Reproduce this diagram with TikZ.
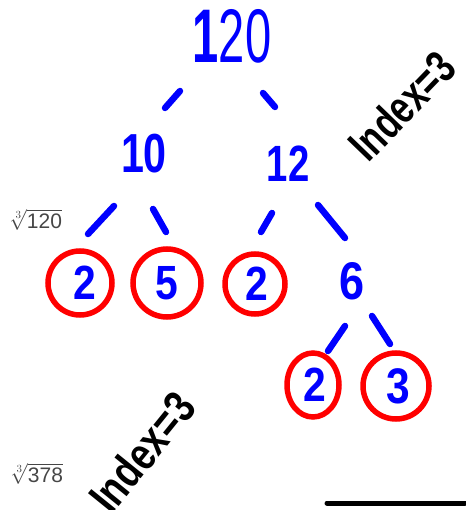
\documentclass[tikz,border=0pt]{standalone}
\usepackage{fontspec}
\usetikzlibrary{shapes.geometric}
\setmainfont{Liberation Sans}
\definecolor{penblue}{RGB}{0,0,255}
\definecolor{penred}{RGB}{255,0,0}
\definecolor{rootgray}{RGB}{70,70,70}
\newcommand{\hw}[3]{\scalebox{#1}[1]{\fontsize{#2}{#2}\selectfont\bfseries #3}}
\newcommand{\hr}[3]{\scalebox{#1}[1]{\fontsize{#2}{#2}\selectfont #3}}
\begin{document}
\begin{tikzpicture}[x=1pt,y=-1pt,
  num/.style={inner sep=0pt, text=penblue},
  dashseg/.style={draw=penblue, line width=6.5pt, line cap=round},
  ring/.style={draw=penred, line width=5.5pt, circle, minimum size=#1, inner sep=0pt},
  ink/.style={inner sep=0pt, text=black},
  rootlabel/.style={inner sep=0pt, text=rootgray, font=\fontsize{21}{21}\selectfont}]
\useasboundingbox (0,0) rectangle (465,510);
% numbers
\node[num] (n120) at (232,36) {\hr{0.62}{76}{\textbf{1}20}};
\node[num] (n10) at (144,154) {\hw{0.75}{55}{10}};
\node[num] (n12) at (288,164) {\hw{0.75}{51}{12}};
\node[num] (n6) at (352,281) {\hw{0.85}{53}{6}};
% circled factors
\node[ring=64pt] (c1) at (80,283) {};
\node[num] (f1) at (85,283) {\hw{0.85}{48}{2}};
\node[ring=68pt] (c2) at (167,283) {};
\node[num] (f2) at (167,283) {\hw{0.85}{48}{5}};
\node[ring=60pt] (c3) at (255,284) {};
\node[num] (f3) at (257,284) {\hw{0.85}{48}{2}};
\node[draw=penred, line width=5.5pt, ellipse, minimum width=52pt, minimum height=64pt, inner sep=0pt] (c4) at (313,385) {};
\node[num] (f4) at (315,385) {\hw{0.85}{48}{2}};
\node[ring=66pt] (c5) at (396,386) {};
\node[num] (f5) at (398,386) {\hw{0.85}{50}{3}};
% dashes
\coordinate (a1) at (180,91); \coordinate (a2) at (165,108);
\coordinate (b1) at (263,93); \coordinate (b2) at (275,107);
\coordinate (d1) at (114,206); \coordinate (d2) at (88,234);
\coordinate (e1) at (153,209); \coordinate (e2) at (166,232);
\coordinate (g1) at (272,213); \coordinate (g2) at (261,232);
\coordinate (h1) at (318,205); \coordinate (h2) at (345,238);
\coordinate (k1) at (345,326); \coordinate (k2) at (328,351);
\coordinate (m1) at (372,316); \coordinate (m2) at (390,344);
\draw[dashseg] (a1) -- (a2);
\draw[dashseg] (b1) -- (b2);
\draw[dashseg] (d1) -- (d2);
\draw[dashseg] (e1) -- (e2);
\draw[dashseg] (g1) -- (g2);
\draw[dashseg] (h1) -- (h2);
\draw[dashseg] (k1) -- (k2);
\draw[dashseg] (m1) -- (m2);
% root labels
\node[rootlabel] (r1) at (36,220) {$\sqrt[3]{\mathrm{120}}$};
\node[rootlabel] (r2) at (37,474) {$\sqrt[3]{\mathrm{378}}$};
% handwritten notes
\node[ink, rotate=46] (idx1) at (402,106) {\hw{0.75}{46}{Index=3}};
\node[ink, rotate=51] (idx2) at (142,452) {\hw{0.8}{46}{Index=3}};
% bottom stroke
\coordinate (s1) at (327,503); \coordinate (s2) at (465,503);
\draw[black, line width=5pt, line cap=round] (s1) -- (s2);
\end{tikzpicture}
\end{document}
